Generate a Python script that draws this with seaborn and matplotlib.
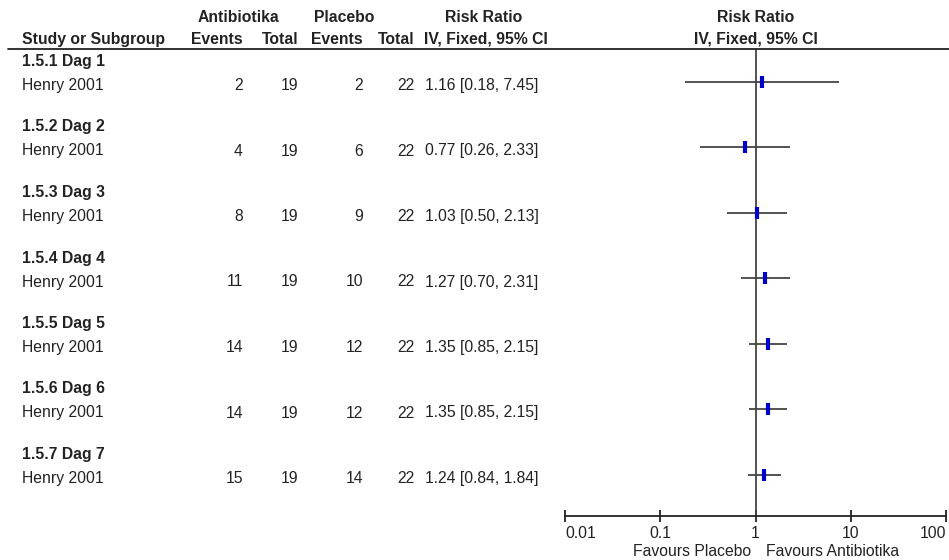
import matplotlib
matplotlib.use("Agg")
import matplotlib.pyplot as plt
from matplotlib.lines import Line2D
import seaborn as sns

# data
subgroups = ["1.5.1 Dag 1", "1.5.2 Dag 2", "1.5.3 Dag 3", "1.5.4 Dag 4",
             "1.5.5 Dag 5", "1.5.6 Dag 6", "1.5.7 Dag 7"]
study = "Henry 2001"
ab_events = [2, 4, 8, 11, 14, 14, 15]
ab_total = [19, 19, 19, 19, 19, 19, 19]
pl_events = [2, 6, 9, 10, 12, 12, 14]
pl_total = [22, 22, 22, 22, 22, 22, 22]
rr = [1.16, 0.77, 1.03, 1.27, 1.35, 1.35, 1.24]
ci_lo = [0.18, 0.26, 0.50, 0.70, 0.85, 0.85, 0.84]
ci_hi = [7.45, 2.33, 2.13, 2.31, 2.15, 2.15, 1.84]
ticks = [0.01, 0.1, 1, 10, 100]
tick_labels = ["0.01", "0.1", "1", "10", "100"]

sns.set_style("white")
plt.rcParams["font.family"] = ["Liberation Sans", "DejaVu Sans"]

W, H = 949, 560
fig = plt.figure(figsize=(W / 100, H / 100), dpi=100)
txt = "#222222"
fs = 11.3


def put(x, y, s, ha="left", bold=False):
    # y is the visual row centre; text sits on a baseline 6 px lower
    fig.text(x / W, 1 - (y + 6) / H, s, ha=ha, va="baseline", fontsize=fs,
             color=txt, fontweight="bold" if bold else "normal")


# header
put(238, 16, "Antibiotika", "center", True)
put(344, 16, "Placebo", "center", True)
put(484, 16, "Risk Ratio", "center", True)
put(756, 16, "Risk Ratio", "center", True)
put(22, 38, "Study or Subgroup", bold=True)
put(243, 38, "Events", "right", True)
put(298, 38, "Total", "right", True)
put(363, 38, "Events", "right", True)
put(415, 38, "Total", "right", True)
put(424, 38, "IV, Fixed, 95% CI", bold=True)
put(756, 38, "IV, Fixed, 95% CI", "center", True)
fig.add_artist(Line2D([8 / W, 1], [1 - 49 / H, 1 - 49 / H], color="#222222", lw=1.3))

row_y = [84 + 65.5 * i for i in range(len(subgroups))]
for i, y in enumerate(row_y):
    put(22, y - 24, subgroups[i], bold=True)
    put(22, y, study)
    put(243, y, str(ab_events[i]), "right")
    put(298, y, str(ab_total[i]), "right")
    put(363, y, str(pl_events[i]), "right")
    put(415, y, str(pl_total[i]), "right")
    put(425, y, f"{rr[i]:.2f} [{ci_lo[i]:.2f}, {ci_hi[i]:.2f}]")

# forest panel
ax = fig.add_axes([565 / W, 1 - 516 / H, (946 - 565) / W, (516 - 49) / H])
ax.set_xscale("log")
ax.set_xlim(0.01, 100)
ax.set_ylim(516, 49)
ax.axvline(1, color="#444444", lw=1.3, zorder=1)
mark_y = [y - 2 for y in row_y]
ax.hlines(mark_y, ci_lo, ci_hi, color="#444444", lw=1.3, zorder=2)
sns.scatterplot(x=rr, y=mark_y, marker="|", s=85, linewidth=3,
                color="#0000cc", ax=ax, legend=False, zorder=3)

for side in ["top", "left", "right"]:
    ax.spines[side].set_visible(False)
ax.spines["bottom"].set_color("#222222")
ax.spines["bottom"].set_linewidth(1.3)
ax.set_yticks([])
ax.set_xticks(ticks)
ax.set_xticklabels(tick_labels)
ax.minorticks_off()
ax.tick_params(axis="x", direction="inout", length=8, width=1.3, color="#222222",
               labelsize=fs, labelcolor=txt, pad=3, bottom=True)
labels = ax.get_xticklabels()
labels[0].set_ha("left")
labels[-1].set_ha("right")
ax.set_xlabel("")
ax.set_ylabel("")

put(751, 550, "Favours Placebo", "right")
put(766, 550, "Favours Antibiotika")

fig.savefig("out.png", dpi=100)
